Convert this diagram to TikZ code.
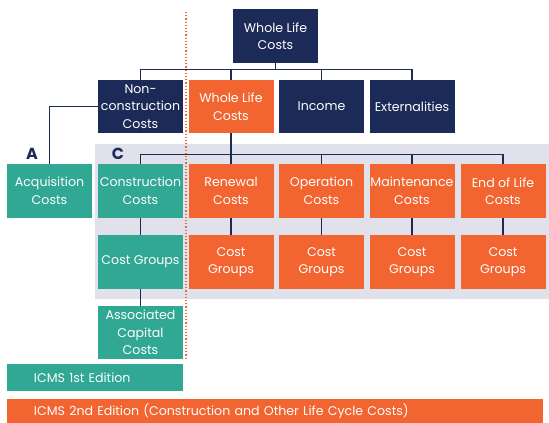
\documentclass[tikz,border=0pt]{standalone}
\usepackage{fontspec}
\setmainfont{Poppins}
\usepackage{tikz}
\usetikzlibrary{positioning}
\definecolor{navy}{HTML}{1B2A57}
\definecolor{icmsorange}{HTML}{F26430}
\definecolor{icmsteal}{HTML}{30A893}
\definecolor{panel}{HTML}{E1E1EC}
\tikzset{
  box/.style={rectangle,minimum width=85pt,minimum height=54pt,inner sep=0pt,
    align=center,text=white,font=\fontsize{12.6}{17.5}\selectfont},
  navybox/.style={box,fill=navy},
  orangebox/.style={box,fill=icmsorange},
  tealbox/.style={box,fill=icmsteal},
  link/.style={draw=navy,line width=1.1pt},
  letter/.style={text=navy,font=\fontsize{16}{16}\selectfont\bfseries}
}

\begin{document}
\begin{tikzpicture}[x=1pt,y=-1pt]
    \useasboundingbox (0,0) rectangle (549,423);
    % grey panel behind the C group
    \fill [panel] (95,144) rectangle (549,299);

    % top levels
    \node at (275.5,36) [navybox] (wlc) {Whole Life\\Costs};
    \node at (140.5,106.5) [navybox,minimum height=53pt] (noncon) {Non-\\construction\\Costs};
    \node at (231,106.5) [orangebox,minimum height=53pt] (wlcost) {Whole Life\\Costs};
    \node at (321.5,106.5) [navybox,minimum height=53pt] (income) {Income};
    \node at (412,106.5) [navybox,minimum height=53pt] (extern) {Externalities};

    % cost categories
    \node at (49.5,191) [tealbox] (acq) {Acquisition\\Costs};
    \node at (140.5,191) [tealbox] (constr) {Construction\\Costs};
    \node at (231,191) [orangebox] (renew) {Renewal\\Costs};
    \node at (321.5,191) [orangebox] (oper) {Operation\\Costs};
    \node at (412,191) [orangebox] (maint) {Maintenance\\Costs};
    \node at (503,191) [orangebox] (eol) {End of Life\\Costs};

    % cost groups
    \node at (140.5,262) [tealbox] (cgconstr) {Cost Groups};
    \node at (231,262) [orangebox] (cgrenew) {Cost\\Groups};
    \node at (321.5,262) [orangebox] (cgoper) {Cost\\Groups};
    \node at (412,262) [orangebox] (cgmaint) {Cost\\Groups};
    \node at (503,262) [orangebox] (cgeol) {Cost\\Groups};
    \node at (140.5,332.5) [tealbox,minimum height=53pt] (assoc) {Associated\\Capital\\Costs};

    % editions
    \node at (95,377.5) [tealbox,minimum width=176pt,minimum height=27pt,text width=122pt,align=left] (first) {ICMS 1st Edition};
    \node at (275,411) [orangebox,minimum width=536pt,minimum height=24pt,text width=482pt,align=left] (second) {ICMS 2nd Edition (Construction and Other Life Cycle Costs)};

    \node at (32,154) [letter] (lblA) {A};
    \node at (118,154) [letter] (lblC) {C};

    % connectors
    \foreach \n in {noncon,wlcost,income,extern}
      \draw [link] (wlc.south) -- ++(0,6) -| (\n.north);
    \draw [link] (noncon.west) -| (acq.north);
    \draw [link] (wlcost.south) -- (renew.north);
    \foreach \n in {constr,oper,maint,eol}
      \draw [link] (wlcost.south) ++(0,21) -| (\n.north);
    \draw [link] (constr.south) -- (cgconstr.north);
    \draw [link] (renew.south) -- (cgrenew.north);
    \draw [link] (oper.south) -- (cgoper.north);
    \draw [link] (maint.south) -- (cgmaint.north);
    \draw [link] (eol.south) -- (cgeol.north);
    \draw [link] (cgconstr.south) -- (assoc.north);

    % boundary between construction and life cycle costs
    \coordinate (dtop) at (186,12);
    \coordinate (dbot) at (186,359);
    \draw [icmsorange,line width=1.2pt,dash pattern=on 1.2pt off 2pt] (dtop) -- (dbot);
\end{tikzpicture}
\end{document}
